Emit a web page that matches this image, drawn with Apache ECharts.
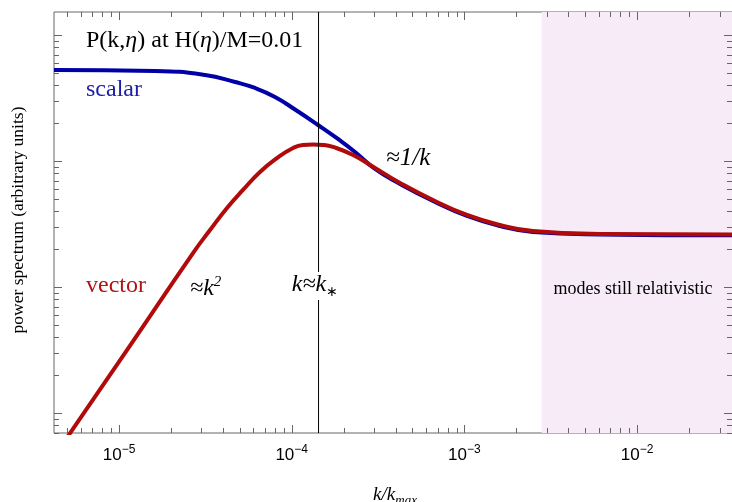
<!DOCTYPE html>
<html>
<head>
<meta charset="utf-8">
<script src="https://cdn.jsdelivr.net/npm/echarts@6/dist/echarts.min.js"></script>
<style>html,body{margin:0;padding:0;background:#fff}#c{width:732px;height:502px}</style>
</head>
<body>
<div id="c"></div>
<script>
// ---- data ----
const kScalar = [4.203e-6, 1.616e-5, 3.148e-5, 4.70e-5, 6.13e-5, 8.0e-5, 1.045e-4, 1.42e-4, 1.853e-4, 2.326e-4, 3.036e-4, 4.24e-4, 6.58e-4, 1.035e-3, 1.607e-3, 2.495e-3, 6.10e-3, 3.543e-2];
const pScalar = [527.6, 518.0, 481.5, 423.6, 379.7, 322.0, 256.3, 193.1, 149.5, 117.9, 86.4, 65.7, 48.1, 36.6, 30.5, 27.3, 26.1, 25.7];
const kVector = [4.203e-6, 1.112e-5, 2.682e-5, 3.365e-5, 4.22e-5, 5.22e-5, 6.55e-5, 8.22e-5, 1.018e-4, 1.16e-4, 1.328e-4, 1.52e-4, 1.734e-4, 2.265e-4, 3.036e-4, 4.24e-4, 6.58e-4, 1.035e-3, 1.607e-3, 2.495e-3, 6.10e-3, 3.543e-2];
const pVector = [0.451, 3.16, 18.6, 28.3, 42.4, 58.9, 81.8, 105.6, 126.8, 134, 135.2, 134, 129.2, 111.6, 88, 66.9, 49, 37.3, 31.06, 27.8, 26.4, 26.1];
const kStar = 1.43e-4;
const relativisticStart = 2.8e-3;
const xMin = 4.203e-6, xMax = 3.543e-2;
const yMin = 0.694, yMax = 1522;
const xMajorTicks = [1e-5, 1e-4, 1e-3, 1e-2];
const xDecades = [1e-6, 1e-5, 1e-4, 1e-3, 1e-2];
const yMajorTicks = [1, 10, 100, 1000];
const yDecades = [0.1, 1, 10, 100, 1000];
const minorMult = [2, 3, 4, 5, 6, 7, 8, 9];

// tick items: [x, y, kind] kind: 0 x-minor, 1 x-major, 2 y-minor, 3 y-major
const tickItems = [];
xDecades.forEach(d => minorMult.forEach(m => { const v = d * m; if (v > xMin && v < xMax) tickItems.push([v, yMin, 0]); }));
xMajorTicks.forEach(v => tickItems.push([v, yMin, 1]));
yDecades.forEach(d => minorMult.forEach(m => { const v = d * m; if (v > yMin && v < yMax) tickItems.push([xMin, v, 2]); }));
yMajorTicks.forEach(v => tickItems.push([xMin, v, 3]));

const BLUE = '#0000a6', RED = '#b00a0a', TICK = '#666';
const serif = 'Liberation Serif';

const chart = echarts.init(document.getElementById('c'), null, {renderer: 'canvas'});
chart.setOption({
  animation: false,
  grid: {left: 54, right: 0, top: 12, bottom: 69, show: true, borderColor: TICK, borderWidth: 1, backgroundColor: 'transparent'},
  xAxis: {
    type: 'log', min: xMin, max: xMax, logBase: 10,
    axisLine: {show: false}, axisTick: {show: false}, splitLine: {show: false},
    axisLabel: {
      margin: 11, showMinLabel: false, showMaxLabel: false,
      formatter: function (v) {
        const e = Math.log10(v);
        if (Math.abs(e - Math.round(e)) > 1e-6) return '';
        return '{b|10}{s|−' + (-Math.round(e)) + '}';
      },
      rich: {
        b: {fontSize: 17, fontFamily: 'Liberation Sans', color: '#000', lineHeight: 20, verticalAlign: 'bottom'},
        s: {fontSize: 12, fontFamily: 'Liberation Sans', color: '#000', lineHeight: 20, verticalAlign: 'top'}
      }
    }
  },
  yAxis: {
    type: 'log', min: yMin, max: yMax, logBase: 10,
    axisLine: {show: false}, axisTick: {show: false}, splitLine: {show: false}, axisLabel: {show: false}
  },
  series: [
    {
      type: 'line', data: [], z: 1, silent: true,
      markArea: {silent: true, itemStyle: {color: '#f6ebf7'}, data: [[{xAxis: relativisticStart}, {xAxis: xMax}]]}
    },
    {
      type: 'line', name: 'scalar', z: 3, smooth: 0.5, symbol: 'none',
      lineStyle: {color: BLUE, width: 4},
      data: kScalar.map((k, i) => [k, pScalar[i]])
    },
    {
      type: 'line', name: 'vector', z: 4, smooth: 0.5, symbol: 'none',
      lineStyle: {color: RED, width: 4},
      data: kVector.map((k, i) => [k, pVector[i]])
    },
    {
      type: 'line', name: 'kstar', z: 5, symbol: 'none', silent: true,
      lineStyle: {color: '#000', width: 1},
      data: [[kStar, yMin], [kStar, yMax]]
    },
    {
      type: 'custom', z: 6, silent: true, clip: false,
      encode: {x: 0, y: 1},
      data: tickItems,
      renderItem: function (params, api) {
        const cs = params.coordSys;
        const kind = api.value(2);
        const len = (kind % 2) ? 8 : 5;
        const st = {stroke: TICK, lineWidth: 1};
        if (kind < 2) {
          const px = Math.round(api.coord([api.value(0), yMin])[0]) + 0.5;
          const b = cs.y + cs.height, t = cs.y;
          return {type: 'group', children: [
            {type: 'line', shape: {x1: px, y1: b, x2: px, y2: b - len}, style: st},
            {type: 'line', shape: {x1: px, y1: t, x2: px, y2: t + len}, style: st}
          ]};
        } else {
          const py = Math.round(api.coord([xMin, api.value(1)])[1]) + 0.5;
          const l = cs.x, r = cs.x + cs.width;
          return {type: 'group', children: [
            {type: 'line', shape: {x1: l, y1: py, x2: l + len, y2: py}, style: st},
            {type: 'line', shape: {x1: r, y1: py, x2: r - len, y2: py}, style: st}
          ]};
        }
      }
    }
  ],
  graphic: [
    {type: 'text', z: 100, x: 86, y: 41, style: {
      text: '{a|P(k,}{i|η}{a|) at H(}{i|η}{a|)/M=0.01}', verticalAlign: 'middle',
      rich: {a: {fontFamily: serif, fontSize: 24, fill: '#000'}, i: {fontFamily: serif, fontStyle: 'italic', fontSize: 24, fill: '#000'}}
    }},
    {type: 'text', z: 100, x: 86, y: 90, style: {text: 'scalar', fontFamily: serif, fontSize: 24, fill: '#1c1caa', verticalAlign: 'middle'}},
    {type: 'text', z: 100, x: 86, y: 286, style: {text: 'vector', fontFamily: serif, fontSize: 24, fill: '#b01414', verticalAlign: 'middle'}},
    {type: 'text', z: 100, x: 190, y: 288, style: {
      text: '{a|≈k}{s|2}', verticalAlign: 'middle',
      rich: {a: {fontFamily: serif, fontStyle: 'italic', fontSize: 24, fill: '#000', lineHeight: 26, verticalAlign: 'bottom'},
             s: {fontFamily: serif, fontStyle: 'italic', fontSize: 15, fill: '#000', lineHeight: 26, verticalAlign: 'top'}}
    }},
    {type: 'text', z: 100, x: 315, y: 286, style: {
      text: '{a|k≈k}{s|∗}', align: 'center', verticalAlign: 'middle', backgroundColor: '#fff', padding: [1, 0, 1, 0],
      rich: {a: {fontFamily: serif, fontStyle: 'italic', fontSize: 24, fill: '#000', lineHeight: 26, verticalAlign: 'top'},
             s: {fontFamily: serif, fontSize: 14, fill: '#000', lineHeight: 26, verticalAlign: 'bottom'}}
    }},
    {type: 'text', z: 100, x: 386, y: 158, style: {text: '≈1/k', fontFamily: serif, fontStyle: 'italic', fontSize: 25, fill: '#000', verticalAlign: 'middle'}},
    {type: 'text', z: 100, x: 633, y: 289, style: {text: 'modes still relativistic', fontFamily: serif, fontSize: 18, fill: '#000', align: 'center', verticalAlign: 'middle'}},
    {type: 'text', z: 100, x: 18, y: 220, rotation: Math.PI / 2, style: {text: 'power spectrum (arbitrary units)', fontFamily: serif, fontSize: 17.5, fill: '#000', align: 'center', verticalAlign: 'middle'}},
    {type: 'text', z: 100, x: 395, y: 496, style: {
      text: '{a|k/k}{s|max}', align: 'center', verticalAlign: 'middle',
      rich: {a: {fontFamily: serif, fontStyle: 'italic', fontSize: 19, fill: '#000', lineHeight: 22, verticalAlign: 'top'},
             s: {fontFamily: serif, fontStyle: 'italic', fontSize: 13, fill: '#000', lineHeight: 22, verticalAlign: 'bottom'}}
    }}
  ]
});
</script>
</body>
</html>
